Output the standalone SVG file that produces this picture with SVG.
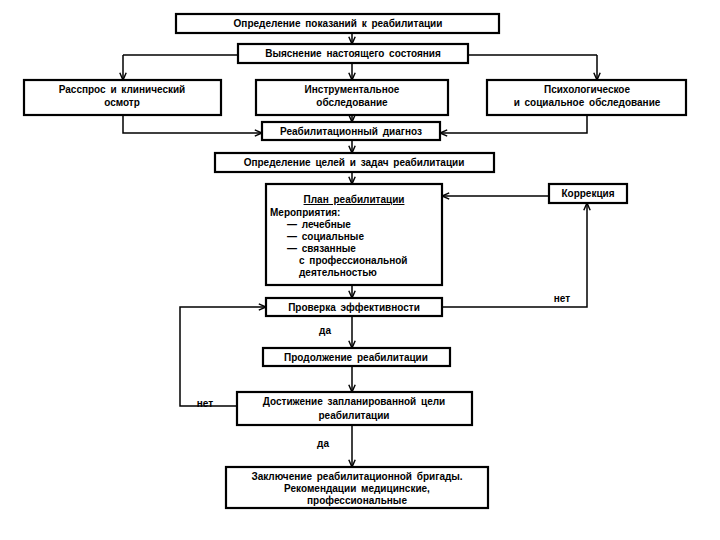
<svg xmlns="http://www.w3.org/2000/svg" width="720" height="540" viewBox="0 0 720 540">
<defs>
<marker id="ah" viewBox="0 0 10 10" refX="10" refY="5" markerWidth="8" markerHeight="8" markerUnits="userSpaceOnUse" orient="auto">
<path d="M1,1 L10,5 L1,9" fill="none" stroke="#000" stroke-width="1.8"/>
</marker>
</defs>
<style>
.box{fill:#fff;stroke:#000;stroke-width:2.2}
.t{font-family:"Liberation Sans",Arial,sans-serif;font-size:10px;font-weight:bold;fill:#000;text-anchor:middle;word-spacing:2px}
.l{text-anchor:start}
.c{fill:none;stroke:#000;stroke-width:1.5;marker-end:url(#ah)}
.n{fill:none;stroke:#000;stroke-width:1.5}
</style>
<rect width="720" height="540" fill="#fff"/>
<g id="connectors">
<path class="c" d="M352,33 V44"/>
<path class="n" d="M123,55 H238"/>
<path class="n" d="M468,55 H597"/>
<path class="c" d="M123,55 V80"/>
<path class="c" d="M597,55 V80"/>
<path class="c" d="M352,63 V80"/>
<path class="c" d="M123,115 V133 H262"/>
<path class="c" d="M587,115 V133 H440"/>
<path class="c" d="M352,115 V122"/>
<path class="c" d="M352,140 V153"/>
<path class="c" d="M352,172 V184"/>
<path class="c" d="M549,196 H442"/>
<path class="c" d="M352,285 V298"/>
<path class="c" d="M442,307 H587 V203"/>
<path class="c" d="M352,316 V348"/>
<path class="c" d="M352,366 V392"/>
<path class="c" d="M237,406 H180 V307 H266"/>
<path class="c" d="M352,425 V467"/>
<text class="t" x="562" y="302">нет</text>
<text class="t" x="325" y="334">да</text>
<text class="t" x="205" y="407">нет</text>
<text class="t" x="323" y="447">да</text>
</g>
<g id="n1"><rect class="box" x="176" y="14" width="323" height="19"/><text class="t" x="338" y="27">Определение показаний к реабилитации</text></g>
<g id="n2"><rect class="box" x="238" y="44" width="230" height="19"/><text class="t" x="353" y="57">Выяснение настоящего состояния</text></g>
<g id="n3"><rect class="box" x="24" y="80" width="197" height="35"/><text class="t" x="122" y="93">Расспрос и клинический</text><text class="t" x="122" y="106">осмотр</text></g>
<g id="n4"><rect class="box" x="256" y="80" width="192" height="35"/><text class="t" x="352" y="93">Инструментальное</text><text class="t" x="352" y="106">обследование</text></g>
<g id="n5"><rect class="box" x="487" y="80" width="199" height="35"/><text class="t" x="587" y="93">Психологическое</text><text class="t" x="587" y="106">и социальное обследование</text></g>
<g id="n6"><rect class="box" x="262" y="122" width="178" height="18"/><text class="t" x="351" y="135">Реабилитационный диагноз</text></g>
<g id="n7"><rect class="box" x="215" y="153" width="279" height="19"/><text class="t" x="354" y="166">Определение целей и задач реабилитации</text></g>
<g id="n8"><rect class="box" x="266" y="184" width="176" height="101"/>
<text class="t" x="354" y="203" text-decoration="underline">План реабилитации</text>
<text class="t l" x="270" y="216">Мероприятия:</text>
<text class="t l" x="287" y="228">— лечебные</text>
<text class="t l" x="287" y="240">— социальные</text>
<text class="t l" x="287" y="252">— связанные</text>
<text class="t l" x="299" y="264">с профессиональной</text>
<text class="t l" x="299" y="276">деятельностью</text>
</g>
<g id="n9"><rect class="box" x="549" y="184" width="78" height="19"/><text class="t" x="588" y="197">Коррекция</text></g>
<g id="n10"><rect class="box" x="266" y="298" width="176" height="18"/><text class="t" x="354" y="311">Проверка эффективности</text></g>
<g id="n11"><rect class="box" x="263" y="348" width="187" height="18"/><text class="t" x="356" y="361">Продолжение реабилитации</text></g>
<g id="n12"><rect class="box" x="237" y="392" width="235" height="33"/><text class="t" x="354" y="405">Достижение запланированной цели</text><text class="t" x="354" y="419">реабилитации</text></g>
<g id="n13"><rect class="box" x="226" y="467" width="262" height="41"/><text class="t" x="357" y="480">Заключение реабилитационной бригады.</text><text class="t" x="357" y="492">Рекомендации медицинские,</text><text class="t" x="357" y="504">профессиональные</text></g>
</svg>
